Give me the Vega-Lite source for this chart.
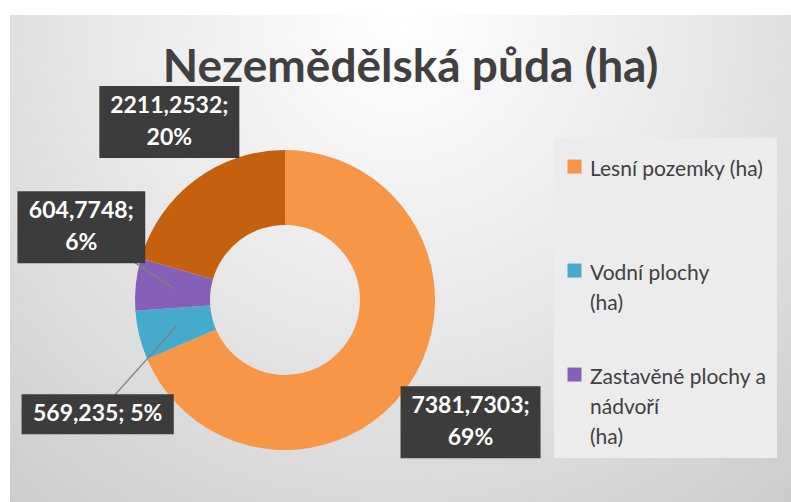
{
  "$schema": "https://vega.github.io/schema/vega-lite/v6.json",
  "width": 791,
  "height": 502,
  "autosize": {"type": "fit", "contains": "padding"},
  "padding": {"left": 10, "top": 15, "right": 0, "bottom": 0},
  "background": "#ffffff",
  "config": {"style": {"guide-label": {"lineHeight": 30}}},
  "view": {
    "stroke": null,
    "fill": {
      "gradient": "radial",
      "x1": 0.5, "y1": 0.2, "r1": 0,
      "x2": 0.5, "y2": 0.2, "r2": 0.85,
      "stops": [
        {"offset": 0, "color": "#ffffff"},
        {"offset": 0.45, "color": "#e8e8e8"},
        {"offset": 1, "color": "#c8c8c8"}
      ]
    }
  },
  "title": {
    "text": "Nezemědělská půda (ha)",
    "font": "Lato",
    "fontSize": 46,
    "fontWeight": "bold",
    "color": "#404040",
    "anchor": "middle",
    "dx": 10,
    "offset": -77
  },
  "data": {
    "values": [
      {"kategorie": "Lesní pozemky (ha)", "hodnota": 7381.7303, "poradi": 1, "popisek": "7381,7303;\n69%"},
      {"kategorie": "Vodní plochy (ha)", "hodnota": 569.235, "poradi": 2, "popisek": "569,235; 5%"},
      {"kategorie": "Zastavěné plochy a nádvoří (ha)", "hodnota": 604.7748, "poradi": 3, "popisek": "604,7748;\n6%"},
      {"kategorie": "Ostatní plochy (ha)", "hodnota": 2211.2532, "poradi": 4, "popisek": "2211,2532;\n20%"}
    ]
  },
  "transform": [
    {"stack": "hodnota", "groupby": [], "sort": [{"field": "poradi", "order": "ascending"}], "as": ["s0", "s1"]},
    {"joinaggregate": [{"op": "sum", "field": "hodnota", "as": "celkem"}]},
    {"calculate": "180 * (datum.s0 + datum.s1) / datum.celkem", "as": "uhel"},
    {"window": [{"op": "lag", "field": "uhel", "as": "pred"}, {"op": "lead", "field": "uhel", "as": "po"}], "sort": [{"field": "poradi", "order": "ascending"}]},
    {"joinaggregate": [{"op": "min", "field": "uhel", "as": "umin"}, {"op": "max", "field": "uhel", "as": "umax"}]},
    {"calculate": "datum.pred == null ? datum.umax - 360 : datum.pred", "as": "pred2"},
    {"calculate": "datum.po == null ? datum.umin + 360 : datum.po", "as": "po2"},
    {"calculate": "datum.uhel - max(0, 55 - (datum.po2 - datum.uhel)) / 2 + max(0, 55 - (datum.uhel - datum.pred2)) / 2", "as": "uhelPopisku"},
    {"calculate": "split(datum.popisek, '\\n')", "as": "radky"},
    {"calculate": "12.2 * max(length(datum.radky[0]), length(peek(datum.radky))) + 18", "as": "sirka"},
    {"calculate": "32 * length(datum.radky) + 8", "as": "vyska"},
    {"calculate": "datum.uhelPopisku * PI / 180", "as": "rad"},
    {"calculate": "144 + abs(sin(datum.rad)) * datum.sirka / 2 + abs(cos(datum.rad)) * datum.vyska / 2", "as": "polomer"},
    {"calculate": "275 + datum.polomer * sin(datum.rad)", "as": "px"},
    {"calculate": "285 - datum.polomer * cos(datum.rad)", "as": "py"},
    {"calculate": "datum.py - 16 * (length(datum.radky) - 1)", "as": "ty"},
    {"calculate": "275 + 112 * sin(datum.uhel * PI / 180)", "as": "vx"},
    {"calculate": "285 - 112 * cos(datum.uhel * PI / 180)", "as": "vy"},
    {"calculate": "datum.px - datum.sirka / 2", "as": "bx1"},
    {"calculate": "datum.px + datum.sirka / 2", "as": "bx2"},
    {"calculate": "datum.py - datum.vyska / 2", "as": "by1"},
    {"calculate": "datum.py + datum.vyska / 2", "as": "by2"}
  ],
  "layer": [
    {
      "mark": {"type": "arc", "outerRadius": 150, "innerRadius": 75, "x": 275, "y": 285, "stroke": null},
      "encoding": {
        "theta": {"field": "hodnota", "type": "quantitative", "stack": true},
        "order": {"field": "poradi", "type": "quantitative"},
        "color": {
          "field": "kategorie",
          "type": "nominal",
          "scale": {
            "domain": ["Lesní pozemky (ha)", "Vodní plochy (ha)", "Zastavěné plochy a nádvoří (ha)", "Ostatní plochy (ha)"],
            "range": ["#F79646", "#45AACB", "#8660B8", "#C4600E"]
          },
          "legend": {
            "orient": "none",
            "legendX": 544,
            "legendY": 123,
            "values": ["Lesní pozemky (ha)", "Vodní plochy (ha)", "Zastavěné plochy a nádvoří (ha)"],
            "title": null,
            "symbolType": "M-1,0.15H1V2.15H-1Z",
            "symbolSize": 196,
            "symbolStrokeWidth": 0,
            "labelFont": "Lato",
            "labelFontSize": 21,
            "labelColor": "#404040",
            "labelLimit": 400,
            "labelOffset": 5,
            "labelBaseline": "top",
            "labelExpr": "datum.value == 'Vodní plochy (ha)' ? ['Vodní plochy', '(ha)'] : datum.value == 'Zastavěné plochy a nádvoří (ha)' ? ['Zastavěné plochy a', 'nádvoří', '(ha)'] : datum.label",
            "gridAlign": "all",
            "rowPadding": 12,
            "padding": 10,
            "fillColor": "#ececec"
          }
        }
      }
    },
    {
      "transform": [{"filter": "abs(datum.uhelPopisku - datum.uhel) > 5"}],
      "mark": {"type": "rule", "color": "#808080", "strokeWidth": 1.3},
      "encoding": {
        "x": {"field": "vx", "type": "quantitative", "scale": null, "axis": null},
        "y": {"field": "vy", "type": "quantitative", "scale": null, "axis": null},
        "x2": {"field": "px"},
        "y2": {"field": "py"}
      }
    },
    {
      "mark": {"type": "rect", "color": "#3c3c3c"},
      "encoding": {
        "x": {"field": "bx1", "type": "quantitative", "scale": null, "axis": null},
        "x2": {"field": "bx2"},
        "y": {"field": "by1", "type": "quantitative", "scale": null, "axis": null},
        "y2": {"field": "by2"}
      }
    },
    {
      "mark": {"type": "text", "font": "Lato", "fontSize": 23, "fontWeight": "bold", "lineHeight": 32, "lineBreak": "\n", "align": "center", "baseline": "middle", "color": "#ffffff"},
      "encoding": {
        "x": {"field": "px", "type": "quantitative", "scale": null, "axis": null},
        "y": {"field": "ty", "type": "quantitative", "scale": null, "axis": null},
        "text": {"field": "popisek", "type": "nominal"}
      }
    }
  ]
}
